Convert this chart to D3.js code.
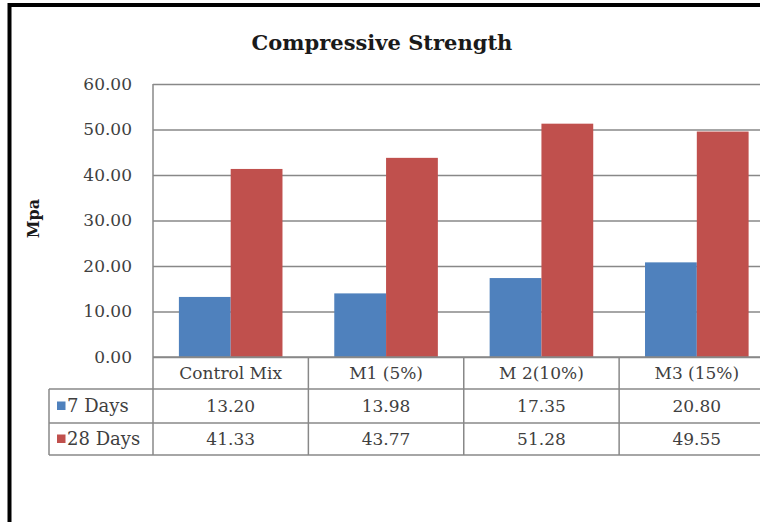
<!DOCTYPE html>
<html>
<head>
<meta charset="utf-8">
<script src="https://cdn.jsdelivr.net/npm/d3@7"></script>
<style>
  html, body { margin: 0; padding: 0; background: #fff; }
  svg { display: block; }
  text { font-family: "DejaVu Serif", "Liberation Serif", serif; }
</style>
</head>
<body>
<svg id="chart" width="760" height="522"></svg>
<script>
// Compressive strength by mix, 7- and 28-day cures
const categories = ["Control Mix", "M1 (5%)", "M 2(10%)", "M3 (15%)"];
const seriesNames = ["7 Days", "28 Days"];
const days7 = [13.20, 13.98, 17.35, 20.80];
const days28 = [41.33, 43.77, 51.28, 49.55];
const yTicks = [0, 10, 20, 30, 40, 50, 60];
const seriesColors = ["#4F81BD", "#C0504D"];

const seriesValues = [days7, days28];

const svg = d3.select("#chart");

// layout
const plot = { left: 153, right: 774.5, top: 84, bottom: 357 };
const rowH = [32, 34, 32];           // header row, 7 Days row, 28 Days row
const tableLeft = 49;
const textColor = "#3f3f3f";
const lineColor = "#888888";

// outer chart frame (extends beyond the window on the right and bottom)
svg.append("rect")
  .attr("x", 9.5).attr("y", 5).attr("width", 800).attr("height", 600)
  .attr("fill", "#fff").attr("stroke", "#000").attr("stroke-width", 4);

// title
svg.append("text")
  .attr("x", 382).attr("y", 50)
  .attr("text-anchor", "middle")
  .attr("font-weight", "bold")
  .attr("font-size", 21)
  .attr("fill", "#1a1a1a")
  .text("Compressive Strength");

const x = d3.scaleBand().domain(categories).range([plot.left, plot.right]).paddingInner(0).paddingOuter(0);
const xs = d3.scaleBand().domain(seriesNames).range([0, x.bandwidth()]).paddingInner(0).paddingOuter(0.5);
const y = d3.scaleLinear().domain([0, 60]).range([plot.bottom, plot.top]);

// gridlines and value labels
const gridG = svg.append("g")
  .attr("transform", `translate(${plot.left},0)`)
  .call(d3.axisLeft(y).tickValues(yTicks).tickSize(-(plot.right - plot.left)).tickFormat(d3.format(".2f")).tickPadding(21));
gridG.select(".domain").remove();
gridG.selectAll(".tick line").attr("stroke", lineColor).attr("stroke-width", 1.5);
gridG.selectAll(".tick text")
  .attr("font-family", "DejaVu Serif, serif")
  .attr("font-size", 17)
  .attr("fill", textColor);

// bars
const groups = svg.append("g").selectAll("g")
  .data(categories)
  .join("g")
  .attr("transform", d => `translate(${x(d)},0)`);

groups.selectAll("rect")
  .data((d, i) => seriesNames.map((s, j) => ({ s, v: seriesValues[j][i], c: seriesColors[j] })))
  .join("rect")
  .attr("x", d => xs(d.s))
  .attr("width", xs.bandwidth())
  .attr("y", d => y(d.v))
  .attr("height", d => y(0) - y(d.v))
  .attr("fill", d => d.c);

// y axis line, continuing down through the data table
svg.append("line")
  .attr("x1", plot.left).attr("x2", plot.left)
  .attr("y1", plot.top).attr("y2", plot.bottom + rowH[0] + rowH[1] + rowH[2])
  .attr("stroke", lineColor).attr("stroke-width", 1.5);

// y axis title
svg.append("text")
  .attr("transform", `translate(39,${(plot.top + plot.bottom) / 2 - 2}) rotate(-90)`)
  .attr("text-anchor", "middle")
  .attr("font-weight", "bold")
  .attr("font-size", 16)
  .attr("fill", "#1a1a1a")
  .text("Mpa");

// data table
const tableG = svg.append("g");
const rowTop = [plot.bottom, plot.bottom + rowH[0], plot.bottom + rowH[0] + rowH[1]];
const tableBottom = rowTop[2] + rowH[2];

// horizontal rules
tableG.append("line").attr("x1", plot.left).attr("x2", plot.right).attr("y1", plot.bottom).attr("y2", plot.bottom)
  .attr("stroke", lineColor).attr("stroke-width", 1.5);
[rowTop[1], rowTop[2], tableBottom].forEach(yy => {
  tableG.append("line").attr("x1", tableLeft).attr("x2", plot.right).attr("y1", yy).attr("y2", yy)
    .attr("stroke", lineColor).attr("stroke-width", 1.5);
});
// vertical rules
tableG.append("line").attr("x1", tableLeft).attr("x2", tableLeft).attr("y1", rowTop[1]).attr("y2", tableBottom)
  .attr("stroke", lineColor).attr("stroke-width", 1.5);
categories.forEach(c => {
  tableG.append("line").attr("x1", x(c) + x.bandwidth()).attr("x2", x(c) + x.bandwidth())
    .attr("y1", plot.bottom).attr("y2", tableBottom)
    .attr("stroke", lineColor).attr("stroke-width", 1.5);
});

// header: category names
tableG.selectAll("text.cat")
  .data(categories)
  .join("text")
  .attr("class", "cat")
  .attr("x", d => x(d) + x.bandwidth() / 2)
  .attr("y", rowTop[0] + rowH[0] / 2 + 6)
  .attr("text-anchor", "middle")
  .attr("font-size", 17)
  .attr("fill", textColor)
  .text(d => d);

// legend keys and values
seriesNames.forEach((s, j) => {
  const cy = rowTop[j + 1] + rowH[j + 1] / 2;
  tableG.append("rect")
    .attr("x", 57).attr("y", cy - 4.5).attr("width", 8.5).attr("height", 8.5)
    .attr("fill", seriesColors[j]);
  tableG.append("text")
    .attr("x", 67).attr("y", cy + 6)
    .attr("font-size", 18)
    .attr("fill", textColor)
    .text(s);
  tableG.selectAll(null)
    .data(seriesValues[j])
    .join("text")
    .attr("x", (d, i) => x(categories[i]) + x.bandwidth() / 2)
    .attr("y", cy + 6)
    .attr("text-anchor", "middle")
    .attr("font-size", 17)
    .attr("fill", textColor)
    .text(d => d.toFixed(2));
});
</script>
</body>
</html>
